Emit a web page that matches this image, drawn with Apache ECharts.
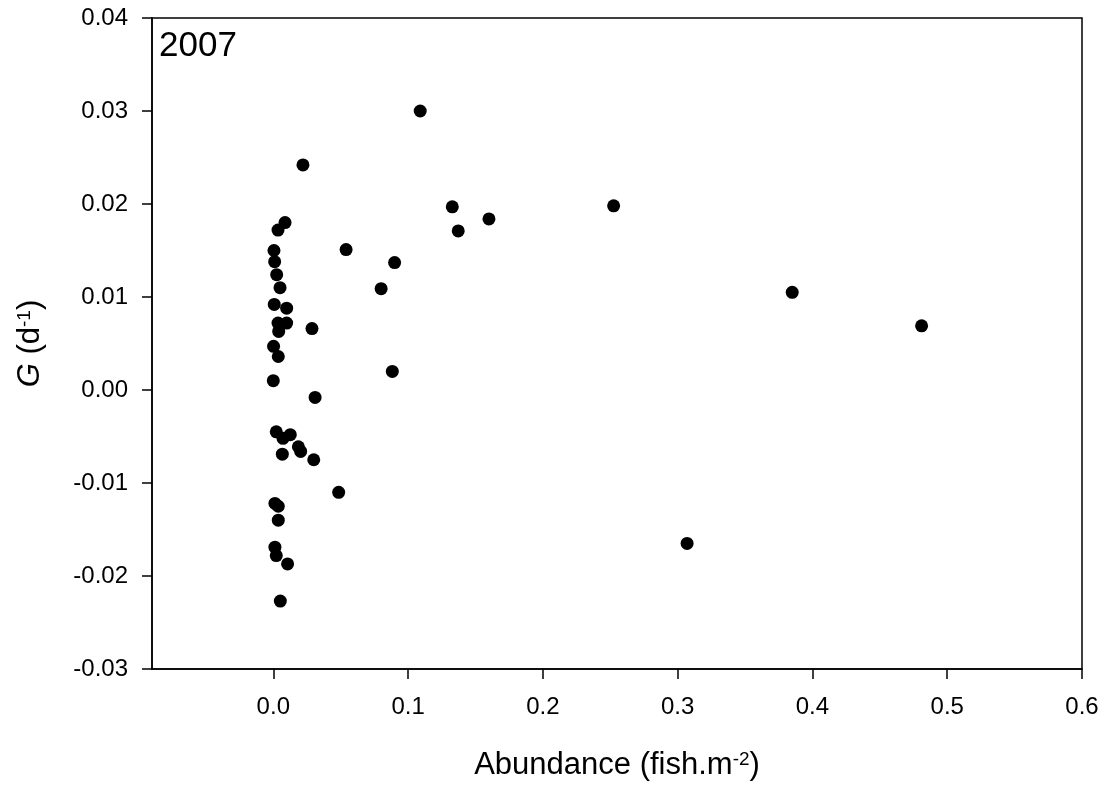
<!DOCTYPE html>
<html>
<head>
<meta charset="utf-8">
<script src="https://cdn.jsdelivr.net/npm/echarts@6/dist/echarts.min.js"></script>
<style>
  html, body { margin: 0; padding: 0; background: #fff; }
  #chart { width: 1108px; height: 786px; }
</style>
</head>
<body>
<div id="chart"></div>
<script>
// abundance (fish.m-2) and growth G (d-1)
const abundance = [
  0.022, 0.0087, 0.0035, 0.054, 0.0005, 0.001, 0.0025, 0.005, 0.0007, 0.0099,
  0.0035, 0.0099, 0.004, 0.0287, 0.0002, 0.0037, 0.0, 0.031, 0.0022, 0.0072,
  0.0126, 0.0067, 0.0186, 0.0203, 0.030, 0.0485, 0.0012, 0.0037, 0.0037, 0.0012,
  0.0022, 0.0106, 0.0052, 0.109, 0.1328, 0.1372, 0.160, 0.2525, 0.090, 0.080,
  0.0883, 0.385, 0.481, 0.307
];
const growth = [
  0.0242, 0.0180, 0.0172, 0.0151, 0.0150, 0.0138, 0.0124, 0.0110, 0.0092, 0.0088,
  0.0072, 0.0072, 0.0063, 0.0066, 0.0047, 0.0036, 0.0010, -0.0008, -0.0045, -0.0052,
  -0.0048, -0.0069, -0.0061, -0.0066, -0.0075, -0.0110, -0.0122, -0.0125, -0.0140, -0.0169,
  -0.0178, -0.0187, -0.0227, 0.0300, 0.0197, 0.0171, 0.0184, 0.0198, 0.0137, 0.0109,
  0.0020, 0.0105, 0.0069, -0.0165
];
const xTicks = [0, 0.1, 0.2, 0.3, 0.4, 0.5, 0.6];
const yearLabel = '2007';

const font = 'Liberation Sans, Arial, sans-serif';
const chart = echarts.init(document.getElementById('chart'));

const option = {
  backgroundColor: '#fff',
  animation: false,
  grid: {
    left: 152, right: 26, top: 18, bottom: 117,
    show: true, borderColor: '#000', borderWidth: 1.5
  },
  xAxis: {
    type: 'value',
    min: -0.09, max: 0.6,
    name: 'Abundance (fish.m{sup|-2})',
    nameLocation: 'middle',
    nameGap: 81,
    nameTextStyle: {
      fontFamily: font, fontSize: 31, color: '#000',
      rich: {
        sup: { fontFamily: font, fontSize: 19, color: '#000', verticalAlign: 'top', lineHeight: 19 }
      }
    },
    splitLine: { show: false },
    axisLine: { onZero: false, lineStyle: { color: '#000', width: 1.5 } },
    axisTick: { inside: false, length: 10, customValues: xTicks, lineStyle: { color: '#000', width: 1.5 } },
    axisLabel: {
      customValues: xTicks, margin: 26,
      fontFamily: font, fontSize: 24, color: '#000',
      formatter: v => v.toFixed(1)
    }
  },
  yAxis: {
    type: 'value',
    min: -0.03, max: 0.04, interval: 0.01,
    name: '{it|G} (d{sup|-1})',
    nameLocation: 'middle',
    nameGap: 106,
    nameTextStyle: {
      fontFamily: font, fontSize: 31, color: '#000',
      rich: {
        it: { fontFamily: font, fontSize: 31, fontStyle: 'italic', color: '#000' },
        sup: { fontFamily: font, fontSize: 19, color: '#000', verticalAlign: 'top', lineHeight: 19 }
      }
    },
    splitLine: { show: false },
    axisLine: { onZero: false, lineStyle: { color: '#000', width: 1.5 } },
    axisTick: { inside: false, length: 10, lineStyle: { color: '#000', width: 1.5 } },
    axisLabel: {
      margin: 24,
      fontFamily: font, fontSize: 24, color: '#000',
      formatter: v => v.toFixed(2)
    }
  },
  graphic: [{
    type: 'text',
    left: 159, top: 29,
    style: { text: yearLabel, font: '35px ' + font, fill: '#000' }
  }],
  series: [{
    type: 'scatter',
    symbol: 'circle',
    symbolSize: 13,
    itemStyle: { color: '#000', opacity: 1 },
    data: abundance.map((a, i) => [a, growth[i]])
  }]
};

chart.setOption(option);
</script>
</body>
</html>
